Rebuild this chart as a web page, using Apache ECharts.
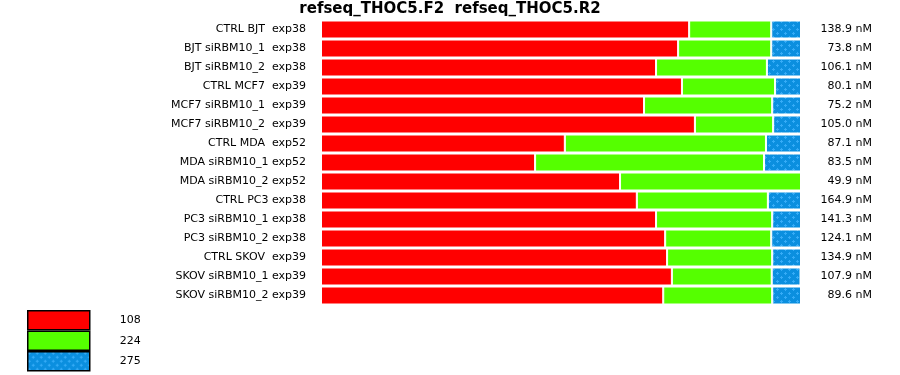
<!DOCTYPE html>
<html>
<head>
<meta charset="utf-8">
<script src="https://cdn.jsdelivr.net/npm/echarts@6/dist/echarts.min.js"></script>
<style>html,body{margin:0;padding:0;background:#fff}#c{width:900px;height:375px}</style>
</head>
<body>
<div id="c"></div>
<script>
const categories = [
  "CTRL BJT  exp38", "BJT siRBM10_1  exp38", "BJT siRBM10_2  exp38",
  "CTRL MCF7  exp39", "MCF7 siRBM10_1  exp39", "MCF7 siRBM10_2  exp39",
  "CTRL MDA  exp52", "MDA siRBM10_1 exp52", "MDA siRBM10_2 exp52",
  "CTRL PC3 exp38", "PC3 siRBM10_1 exp38", "PC3 siRBM10_2 exp38",
  "CTRL SKOV  exp39", "SKOV siRBM10_1 exp39", "SKOV siRBM10_2 exp39"
];
const concLabels = [
  "138.9 nM", "73.8 nM", "106.1 nM", "80.1 nM", "75.2 nM", "105.0 nM",
  "87.1 nM", "83.5 nM", "49.9 nM", "164.9 nM", "141.3 nM", "124.1 nM",
  "134.9 nM", "107.9 nM", "89.6 nM"
];
const seriesNames = ["108", "224", "275"];
const s108 = [76.7, 74.4, 69.8, 75.2, 67.3, 77.9, 50.8, 44.6, 62.3, 65.8, 69.8, 71.7, 72.1, 73.1, 71.3];
const s224 = [17.1, 19.4, 23.1, 19.4, 26.7, 16.3, 41.9, 47.7, 37.7, 27.3, 24.2, 22.1, 21.9, 20.8, 22.7];
const s275 = [6.2, 6.2, 7.1, 5.4, 6.0, 5.8, 7.3, 7.7, 0, 6.9, 6.0, 6.2, 6.0, 6.0, 6.0];

// checkered blue pattern
const tile = document.createElement('canvas');
tile.width = 8; tile.height = 8;
const g = tile.getContext('2d');
g.fillStyle = '#0b8fdf'; g.fillRect(0, 0, 8, 8);
g.fillStyle = '#36acf7';
function plus(x, y) {
  g.fillRect(x - 1, y, 3, 1);
  g.fillRect(x, y - 1, 1, 3);
}
plus(1, 1); plus(5, 5);
const blueFill = { image: tile, repeat: 'repeat' };

const chart = echarts.init(document.getElementById('c'), null, { renderer: 'canvas' });
const font = 'DejaVu Sans';
function bar(name, data, color) {
  return {
    name: name, type: 'bar', stack: 'all', data: data, barWidth: 18,
    itemStyle: { color: color, borderColor: '#fff', borderWidth: 1 },
    emphasis: { disabled: true }, animation: false
  };
}
chart.setOption({
  animation: false,
  title: {
    text: 'refseq_THOC5.F2  refseq_THOC5.R2', left: 'center', top: -3,
    textStyle: { fontFamily: font, fontSize: 15, fontWeight: 'bold', color: '#000' }
  },
  legend: {
    orient: 'vertical', left: 27, top: 310, height: 70, padding: 0,
    itemWidth: 62, itemHeight: 19, itemGap: 0, icon: 'rect',
    data: seriesNames,
    itemStyle: { borderColor: '#000', borderWidth: 1.5 },
    textStyle: { fontFamily: font, fontSize: 11, color: '#000', padding: [0, 0, 0, 25], lineHeight: 19 },
    selectedMode: false
  },
  grid: { left: 321, right: 99, top: 20, height: 285, containLabel: false },
  xAxis: { type: 'value', min: 0, max: 100, show: false },
  yAxis: [
    {
      type: 'category', data: categories, inverse: true,
      axisLine: { show: false }, axisTick: { show: false }, splitLine: { show: false },
      axisLabel: { fontFamily: font, fontSize: 11, color: '#000', margin: 15 }
    },
    {
      type: 'category', data: concLabels, inverse: true, position: 'right',
      axisLine: { show: false }, axisTick: { show: false }, splitLine: { show: false },
      axisLabel: { fontFamily: font, fontSize: 11, color: '#000', margin: 71, align: 'right' }
    }
  ],
  series: [
    bar(seriesNames[0], s108, '#ff0000'),
    bar(seriesNames[1], s224, '#55ff00'),
    bar(seriesNames[2], s275, blueFill)
  ]
});
</script>
</body>
</html>
